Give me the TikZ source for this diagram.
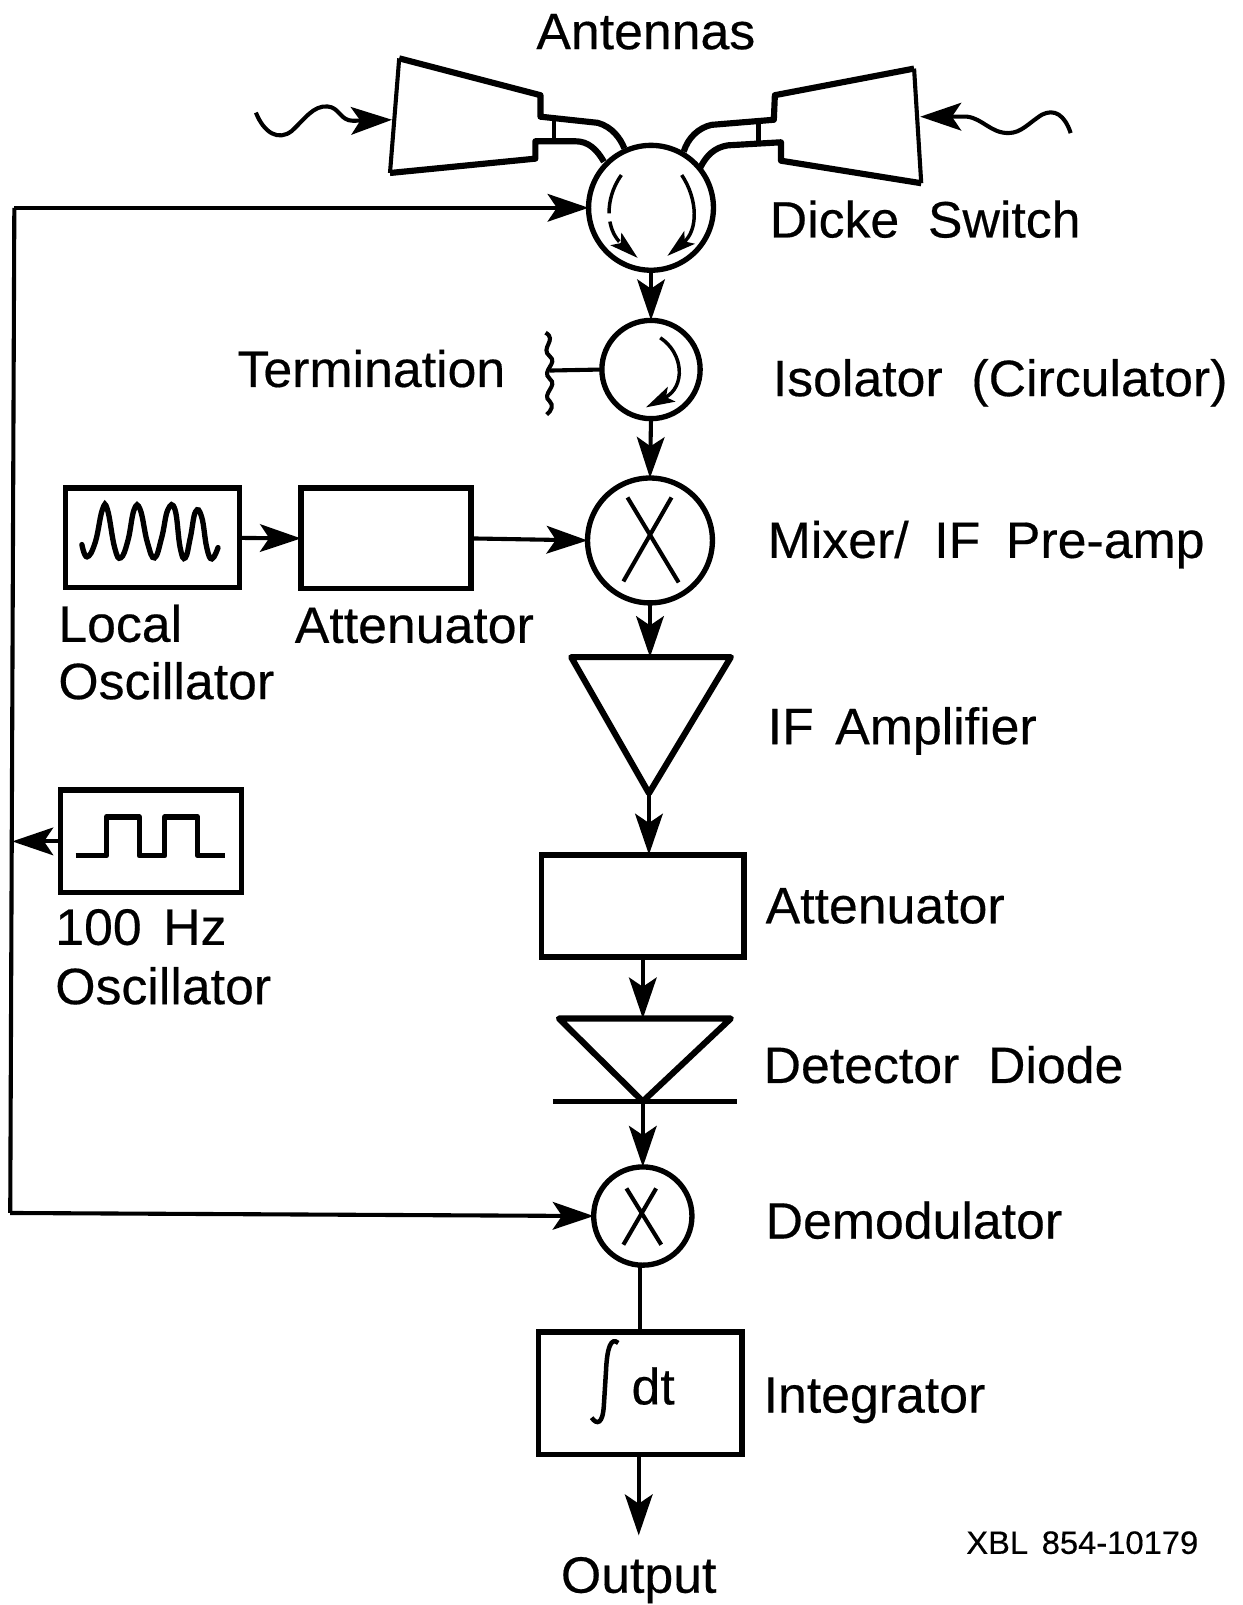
\documentclass[tikz,border=0pt]{standalone}
\usepackage{fontspec}
\setmainfont{Liberation Sans}[FakeBold=0.35,FakeStretch=1.012]
\usetikzlibrary{arrows.meta}
\newcommand{\wgap}{\hspace{0.42em}}
\newcommand{\mgap}{\hspace{0.5em}}
\tikzset{
  lbl/.style={anchor=base west,inner sep=0pt,outer sep=0pt,font=\fontsize{25}{25}\selectfont},
  boxn/.style={draw,rectangle,line width=2.8pt,outer sep=0pt,inner sep=0pt},
  circn/.style={draw,circle,line width=2.6pt,outer sep=0pt,inner sep=0pt},
  thick line/.style={line width=3pt,line join=round},
  thin line/.style={line width=2pt,line join=round},
  conn/.style={line width=2pt,-{Stealth[length=20pt,width=13.5pt,inset=4.5pt]}},
  small arrow/.style={line width=1.7pt,-{Stealth[length=14pt,width=8pt,inset=3pt]}},
}
\begin{document}
\begin{tikzpicture}[x=0.5pt,y=-0.5pt]
\useasboundingbox (0,0) rectangle (1214,1568);
\fill[white] (0,0) rectangle (1214,1568);
% circles
\node[circn,minimum size=61pt] (dicke) at (636,203) {};
\node[circn,minimum size=48pt] (iso) at (636,361) {};
\node[circn,minimum size=61pt] (mixer) at (635,528) {};
\node[circn,minimum size=48pt] (demod) at (628,1188) {};
% boxes
\node[boxn,minimum width=85pt,minimum height=48.5pt] (lo) at (149,525.5) {};
\node[boxn,minimum width=83pt,minimum height=49pt] (att1) at (377,526) {};
\node[boxn,minimum width=88.5pt,minimum height=50pt] (osc) at (147.5,822) {};
\node[boxn,minimum width=99pt,minimum height=50pt] (att2) at (628,885) {};
\node[boxn,minimum width=99.5pt,minimum height=60pt] (integ) at (625.5,1361) {};
% triangles
\coordinate (iftl) at (558,642); \coordinate (iftr) at (714,642);
\coordinate (iftip) at (634,775); \coordinate (iftop) at (635,642);
\coordinate (dettl) at (546,995); \coordinate (dettr) at (714,995);
\coordinate (dettip) at (628,1076); \coordinate (dettop) at (628,995);
\draw[thick line] (iftl) -- (iftr) -- (iftip) -- cycle;
\draw[thick line] (dettl) -- (dettr) -- (dettip) -- cycle;
\draw[line width=2.4pt] (540,1076) -- (720,1076);
% antennas
\draw[thick line] (610,145) .. controls (606,135) and (598,124) .. (584,120) -- (528,114) -- (528,93) -- (390,57);
\draw[thin line] (390,57) -- (381,169);
\draw[thick line] (381,169) -- (523,155) -- (523,138) -- (562,138) .. controls (575,138) and (583,146) .. (590,158);
\draw[thin line] (541,116) -- (541,138);
\draw[thick line] (668,148) .. controls (672,135) and (682,125) .. (695,122) -- (756,117) -- (757,93) -- (893,67);
\draw[thin line] (893,67) -- (900,179);
\draw[thick line] (900,179) -- (763,157) -- (763,139) -- (711,142) .. controls (698,144) and (690,152) .. (684,164);
\draw[thin line] (741,118) -- (741,139);
% incoming waves
\coordinate (waveL) at (250,110); \coordinate (waveR) at (1046,130);
\coordinate (hornL) at (383,117); \coordinate (hornR) at (899,114);
\draw[conn] (waveL) .. controls (258,130) and (272,138) .. (285,128) .. controls (298,116) and (306,103) .. (320,104) .. controls (332,105) and (332,118) .. (345,118) -- (hornL);
\draw[conn] (waveR) .. controls (1040,112) and (1030,106) .. (1018,112) .. controls (1005,120) and (998,130) .. (985,130) .. controls (968,130) and (960,116) .. (945,114) -- (hornR);
% arrows within the switch
\draw[small arrow] (666,171) .. controls (682,195) and (682,225) .. (652,250);
\draw[small arrow,dash pattern=on 20pt off 4pt on 11pt off 5pt on 40pt] (607,171) .. controls (590,195) and (592,225) .. (623,252);
\draw[small arrow] (645,330) .. controls (668,345) and (670,378) .. (631,398);
% connectors
\draw[conn] (dicke.south) -- (iso.north);
\draw[conn] (iso.south) -- (mixer.north);
\draw[conn] (mixer.south) -- (iftop);
\draw[conn] (iftip) -- (att2.north -| iftip);
\draw[conn] (att2.south) -- (dettop);
\draw[conn] (dettip) -- (demod.north);
\draw[line width=2pt] (demod.south -| integ.north) -- (integ.north);
\coordinate (outtip) at (624,1500);
\draw[conn] (integ.south -| outtip) -- (outtip);
\draw[conn] (lo.east) -- (att1.west);
\draw[conn] (att1.east) -- (mixer.west);
% feedback
\coordinate (feedtop) at (14,203);
\coordinate (feedbot) at (10,1185);
\coordinate (feedjoin) at (12,822);
\draw[conn] (feedtop) -- (dicke.west);
\draw[line width=2pt] (feedtop) -- (feedbot);
\draw[conn] (feedbot) -- (demod.west);
\draw[conn] (osc.west) -- (feedjoin);
% termination
\coordinate (term) at (537,362);
\draw[line width=2pt] (iso.west) -- (term);
\draw[line width=2pt] (533,325) .. controls (545,332) and (527,340) .. (537,348) .. controls (546,355) and (528,362) .. (537,370) .. controls (546,377) and (528,385) .. (537,392) .. controls (541,396) and (539,401) .. (534,405);
% mixer crosses
\draw[line width=2pt] (613,486) -- (663,569) (656,486) -- (609,568);
\draw[line width=2pt] (612,1161) -- (646,1216) (641,1161) -- (609,1216);
% LO wave
\draw[line width=2.6pt,line cap=round] plot[smooth,tension=.75] coordinates {(80,532) (85,544) (93,530) (100,498) (105,498) (112,535) (118,545) (125,528) (131,498) (137,498) (144,530) (151,545) (158,525) (164,498) (171,498) (176,535) (181,545) (186,525) (191,500) (197,505) (202,535) (207,546) (213,535)};
% square wave
\draw[line width=2.6pt,line join=round] (74,836) -- (104,836) -- (104,798) -- (136,798) -- (136,836) -- (161,836) -- (161,798) -- (193,798) -- (193,836) -- (220,836);
% labels
\node[lbl] (tant) at (524,48) {Antennas};
\node[lbl] (tdicke) at (752,232) {Dicke\ \ Switch};
\node[lbl] (tterm) at (232,378) {Termination};
\node[lbl] (tiso) at (755,387) {Isolator\ \ (Circulator)};
\node[lbl] (tmix) at (750,545) {Mixer/\mgap IF\mgap Pre-amp};
\node[lbl] (tlo1) at (57,627) {Local};
\node[lbl] (tlo2) at (57,683) {Oscillator};
\node[lbl] (tatt1) at (288,628) {Attenuator};
\node[lbl] (tif) at (750,727) {IF\wgap Amplifier};
\node[lbl] (tosc1) at (54,923) {100\wgap Hz};
\node[lbl] (tosc2) at (54,981) {Oscillator};
\node[lbl] (tatt2) at (748,902) {Attenuator};
\node[lbl] (tdet) at (746,1058) {Detector\ \ Diode};
\node[lbl] (tdem) at (748,1210) {Demodulator};
\node[lbl] (tint) at (746,1380) {Integrator};
\node[lbl] (tout) at (548,1556) {Output};
\node[lbl,font=\fontsize{15.8}{16}\selectfont] (txbl) at (944,1518) {XBL\wgap 854-10179};
\node[lbl] (tdt) at (617,1372) {dt};
\draw[line width=2.2pt] (604,1312) .. controls (597,1306) and (593,1316) .. (592,1340) -- (590,1372) .. controls (589,1392) and (583,1392) .. (578,1385);
\end{tikzpicture}
\end{document}
